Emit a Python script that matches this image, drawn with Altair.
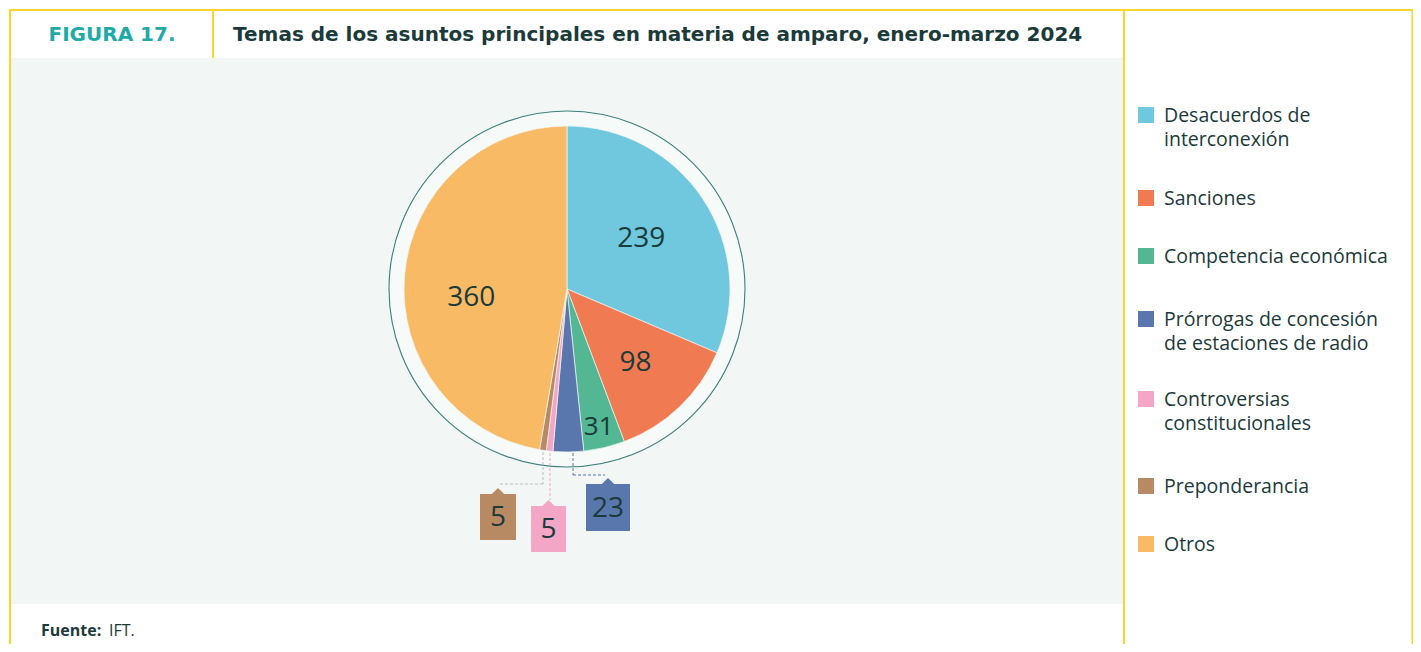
import altair as alt
import pandas as pd

# ---------------- data ----------------
categories = [
    "Desacuerdos de interconexión",
    "Sanciones",
    "Competencia económica",
    "Prórrogas de concesión de estaciones de radio",
    "Controversias constitucionales",
    "Preponderancia",
    "Otros",
]
values = [239, 98, 31, 23, 5, 5, 360]
colors = ["#6FC8DE", "#F07B52", "#52B792", "#5A77AD", "#F3A6C5", "#B88A63", "#F8BA65"]
legend_lines = [
    ["Desacuerdos de", "interconexión"],
    ["Sanciones"],
    ["Competencia económica"],
    ["Prórrogas de concesión", "de estaciones de radio"],
    ["Controversias", "constitucionales"],
    ["Preponderancia"],
    ["Otros"],
]
fig_label = "FIGURA 17."
title_text = "Temas de los asuntos principales en materia de amparo, enero-marzo 2024"
source_bold = "Fuente:"
source_text = "IFT."

df = pd.DataFrame({"cat": categories, "value": values, "idx": list(range(len(values)))})
one = pd.DataFrame({"k": [0]})

# ---------------- layout / style ----------------
W, H = 1405, 636
FONT = "Open Sans"
HFONT = "DejaVu Sans"
DARK = "#1B3A3A"
TEAL = "#1FA9A7"
YELLOW = "#FCD52B"
MINT = "#F2F7F5"


def P(v):
    return v - 8  # page coords -> chart coords


CX, CY = P(566), P(288)
R_PIE, R_RING = 163, 178

color_scale = alt.Scale(domain=categories, range=colors)
col = alt.Color("cat:N", scale=color_scale, legend=None)

layers = []

# panel background
layers.append(
    alt.Chart(one).mark_rect(color=MINT).encode(
        x=alt.value(P(10)), x2=alt.value(P(1122)), y=alt.value(P(57)), y2=alt.value(P(603))
    )
)

# yellow frame lines
def vrule(x, y1, y2):
    return alt.Chart(one).mark_rule(color=YELLOW, strokeWidth=2).encode(
        x=alt.value(x), x2=alt.value(x), y=alt.value(y1), y2=alt.value(y2)
    )

layers.append(
    alt.Chart(one).mark_rule(color=YELLOW, strokeWidth=2).encode(
        x=alt.value(0), x2=alt.value(W), y=alt.value(1), y2=alt.value(1)
    )
)
layers.append(vrule(1, 0, H))
layers.append(vrule(P(212), 0, P(57)))
layers.append(vrule(P(1123), 0, H))
layers.append(vrule(W - 1.5, 0, H))

# ring around pie
layers.append(
    alt.Chart(one).mark_arc(
        theta=0, theta2=6.2832, outerRadius=R_RING, fill="white", fillOpacity=0.35,
        stroke="#3E7E7A", strokeWidth=1.1
    ).encode(x=alt.value(CX), y=alt.value(CY))
)

# pie
base = alt.Chart(df).encode(
    theta=alt.Theta("value:Q", stack=True),
    order=alt.Order("idx:Q"),
    color=col,
)
layers.append(
    base.mark_arc(outerRadius=R_PIE, stroke="#F2F7F5", strokeWidth=0.7).encode(
        x=alt.value(CX), y=alt.value(CY)
    )
)

# in-slice labels (index, radius, size, dy)
for i, rad, fs, dy in [(0, 89, 28, -1), (1, 99, 28, 2), (2, 138, 26, 4), (6, 96, 28, 17)]:
    layers.append(
        base.transform_calculate(lbl=f"datum.idx == {i} ? format(datum.value, 'd') : ''")
        .mark_text(radius=rad, fontSize=fs, font=FONT, color=DARK, dy=dy)
        .encode(x=alt.value(CX), y=alt.value(CY), text="lbl:N", color=alt.value(DARK))
    )

# callouts for small slices
def dashed(x1, y1, x2, y2, c):
    return alt.Chart(one).mark_rule(color=c, strokeWidth=1, strokeDash=[3, 2]).encode(
        x=alt.value(P(x1)), y=alt.value(P(y1)), x2=alt.value(P(x2)), y2=alt.value(P(y2))
    )

layers += [
    dashed(572, 452, 572, 474, "#5A77AD"),
    dashed(572, 474, 604, 474, "#5A77AD"),
    dashed(542, 451, 542, 483, "#BDBDBD"),
    dashed(542, 483, 499, 483, "#BDBDBD"),
    dashed(549, 452, 549, 499, "#F3A6C5"),
]

callouts = [  # idx, x1, x2, y1, y2
    (3, 585, 629, 483, 530),
    (5, 479, 515, 493, 539),
    (4, 530, 565, 505, 551),
]
for i, x1, x2, y1, y2 in callouts:
    sub = alt.Chart(df).transform_filter(f"datum.idx == {i}")
    layers.append(
        sub.mark_rect().encode(
            x=alt.value(P(x1)), x2=alt.value(P(x2)), y=alt.value(P(y1)), y2=alt.value(P(y2)), color=col
        )
    )
    layers.append(
        sub.mark_point(shape="M-1,0.5L-0.3,-0.2L0,-0.5L0.3,-0.2L1,0.5Z", filled=True, opacity=1, size=150).encode(
            x=alt.value(P((x1 + x2) / 2)), y=alt.value(P(y1) - 3), color=col
        )
    )
    layers.append(
        sub.mark_text(fontSize=28, font=FONT, color=DARK, baseline="middle").encode(
            x=alt.value(P((x1 + x2) / 2)), y=alt.value(P((y1 + y2) / 2) + 1), text="value:Q"
        )
    )

# legend (manual); multi-line labels are one text mark each
LH = 24
sq_y = [114, 197, 255, 318, 398, 485, 543]
for i, lines in enumerate(legend_lines):
    sub = alt.Chart(df).transform_filter(f"datum.idx == {i}")
    layers.append(
        sub.mark_square(size=256, opacity=1).encode(
            x=alt.value(P(1145)), y=alt.value(P(sq_y[i])), color=col
        )
    )
    layers.append(
        alt.Chart(one).mark_text(
            text=lines if len(lines) > 1 else lines[0], align="left", baseline="middle",
            fontSize=19.5, lineHeight=LH, font=FONT, color=DARK
        ).encode(x=alt.value(P(1163)), y=alt.value(P(sq_y[i] + 1)))
    )

# header texts
layers.append(
    alt.Chart(one).mark_text(
        text=fig_label, align="center", baseline="middle", fontSize=20, fontWeight="bold",
        font=HFONT, color=TEAL
    ).encode(x=alt.value(P(111)), y=alt.value(P(34)))
)
layers.append(
    alt.Chart(one).mark_text(
        text=title_text, align="left", baseline="middle", fontSize=20, fontWeight="bold",
        font=HFONT, color=DARK
    ).encode(x=alt.value(P(232)), y=alt.value(P(34)))
)

# source
layers.append(
    alt.Chart(one).mark_text(
        text=source_bold, align="left", baseline="middle", fontSize=16, fontWeight="bold",
        font=FONT, color=DARK
    ).encode(x=alt.value(P(40)), y=alt.value(P(630)))
)
layers.append(
    alt.Chart(one).mark_text(
        text=source_text, align="left", baseline="middle", fontSize=16, font=FONT, color=DARK
    ).encode(x=alt.value(P(108)), y=alt.value(P(630)))
)

chart = (
    alt.layer(*layers)
    .properties(
        width=W, height=H, background="white", padding=0,
        autosize=alt.AutoSizeParams(type="fit", contains="padding"),
    )
    .configure_view(stroke=None)
)

chart.save("out.html", embed_options={"renderer": "svg", "actions": False})
